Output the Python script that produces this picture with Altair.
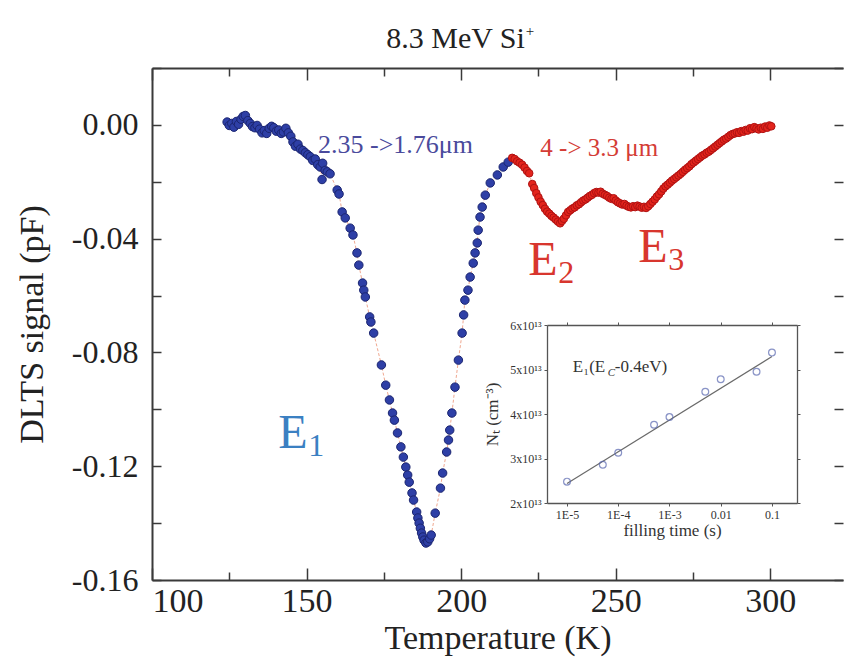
import altair as alt
import pandas as pd

SERIF = "Liberation Serif"

# ---------------- data ----------------
blue_T = [124.3, 125.0, 125.8, 126.5, 127.3, 128.0, 128.8, 129.5, 130.2, 131.0,
          131.8, 132.5, 133.3, 134.0, 134.8, 135.6, 136.3, 137.1, 137.9, 138.7,
          139.4, 140.2, 141.0, 141.8, 142.5, 143.3, 144.1, 144.9, 145.6, 146.4,
          147.2, 148.0, 148.8, 149.6, 150.4, 151.2, 152.0, 152.8, 153.6, 154.4,
          155.0, 155.2, 156.0, 156.7, 157.6, 159.9, 160.5, 161.5, 162.5, 164.1,
          165.0, 166.3, 166.9, 168.1, 168.5, 169.0, 170.4, 170.8, 171.7, 174.2,
          175.6, 176.8, 177.8, 178.4, 179.4, 180.5, 181.3, 182.1, 182.7, 183.2,
          184.1, 184.6, 185.6, 186.0, 186.4, 186.8, 187.2, 187.6, 188.0, 188.6,
          189.2, 189.8, 190.3, 191.6, 193.3, 194.0, 195.3, 195.9, 196.3, 197.0,
          198.0, 199.1, 200.3, 200.8, 201.2, 202.2, 202.9, 203.9, 204.5, 205.2,
          205.5, 206.1, 206.8, 207.8, 209.4, 211.7, 213.6, 215.2]
blue_V = [0.0010, -0.0002, 0.0005, -0.0008, 0.0012, 0.0002, 0.0020, 0.0030, 0.0033, 0.0015,
          0.0005, -0.0006, -0.0010, -0.0002, -0.0015, -0.0028, -0.0020, -0.0030, -0.0012, -0.0005,
          -0.0010, -0.0022, -0.0018, -0.0030, -0.0025, -0.0012, -0.0028, -0.0040, -0.0060, -0.0075,
          -0.0068, -0.0085, -0.0090, -0.0098, -0.0105, -0.0112, -0.0125, -0.0120, -0.0140, -0.0148,
          -0.0192, -0.0135, -0.0160, -0.0165, -0.0172, -0.0229, -0.0243, -0.0306, -0.0327, -0.0363,
          -0.0387, -0.0450, -0.0493, -0.0556, -0.0581, -0.0605, -0.0675, -0.0693, -0.0732, -0.0844,
          -0.0915, -0.0967, -0.1013, -0.1038, -0.1083, -0.1132, -0.1168, -0.1203, -0.1231, -0.1256,
          -0.1294, -0.1319, -0.1361, -0.1382, -0.1400, -0.1418, -0.1435, -0.1449, -0.1460, -0.1470,
          -0.1466, -0.1455, -0.1442, -0.1365, -0.1277, -0.1224, -0.1150, -0.1108, -0.1073, -0.1013,
          -0.0922, -0.0827, -0.0732, -0.0668, -0.0616, -0.0581, -0.0535, -0.0486, -0.0450, -0.0415,
          -0.0370, -0.0324, -0.0289, -0.0247, -0.0204, -0.0176, -0.0148, -0.0131]

red_T = [216.5, 217.3, 218.1, 218.9, 219.7, 220.5, 221.3, 222.0, 223.0, 223.6,
         224.3, 225.0, 225.7, 226.4, 227.1, 227.8, 228.5, 229.2, 229.9, 230.6,
         231.3, 232.0, 232.6, 233.2, 233.9, 234.6, 235.3, 236.0, 236.7, 237.4,
         238.1, 238.8, 239.5, 240.2, 240.9, 241.6, 242.3, 243.0, 243.7, 244.4,
         245.1, 245.8, 246.5, 247.2, 247.9, 248.6, 249.3, 250.0, 250.7, 251.4,
         252.1, 252.8, 253.5, 254.2, 254.9, 255.6, 256.3, 257.0, 257.7, 258.4,
         259.1, 259.8, 260.5, 261.2, 261.9, 262.6, 263.3, 264.0, 264.7, 265.4,
         266.1, 266.8, 267.5, 268.2, 268.9, 269.6, 270.3, 271.0, 271.7, 272.4,
         273.1, 273.8, 274.5, 275.2, 275.9, 276.6, 277.3, 278.0, 278.7, 279.4,
         280.1, 280.8, 281.5, 282.2, 282.9, 283.6, 284.3, 285.0, 285.7, 286.4,
         287.1, 287.8, 288.5, 289.2, 289.9, 290.6, 291.3, 292.0, 292.7, 293.4,
         294.1, 294.8, 295.5, 296.2, 296.9, 297.6, 298.3, 299.0, 299.7, 300.3]
red_V = [-0.0116, -0.0120, -0.0128, -0.0133, -0.0140, -0.0150, -0.0162, -0.0170, -0.0208, -0.0222,
         -0.0240, -0.0255, -0.0270, -0.0282, -0.0295, -0.0305, -0.0312, -0.0320, -0.0326, -0.0333,
         -0.0340, -0.0346, -0.0338, -0.0330, -0.0318, -0.0306, -0.0300, -0.0294, -0.0290, -0.0283,
         -0.0279, -0.0272, -0.0266, -0.0262, -0.0256, -0.0250, -0.0246, -0.0240, -0.0236, -0.0238,
         -0.0235, -0.0242, -0.0246, -0.0250, -0.0256, -0.0260, -0.0258, -0.0266, -0.0272, -0.0276,
         -0.0280, -0.0278, -0.0284, -0.0288, -0.0290, -0.0286, -0.0289, -0.0284, -0.0287, -0.0291,
         -0.0288, -0.0292, -0.0286, -0.0278, -0.0270, -0.0262, -0.0252, -0.0244, -0.0234, -0.0224,
         -0.0216, -0.0210, -0.0203, -0.0196, -0.0190, -0.0184, -0.0178, -0.0172, -0.0165, -0.0158,
         -0.0152, -0.0146, -0.0138, -0.0132, -0.0126, -0.0120, -0.0114, -0.0108, -0.0104, -0.0098,
         -0.0094, -0.0088, -0.0082, -0.0076, -0.0070, -0.0064, -0.0058, -0.0052, -0.0048, -0.0042,
         -0.0036, -0.0032, -0.0030, -0.0026, -0.0028, -0.0022, -0.0024, -0.0018, -0.0020, -0.0012,
         -0.0015, -0.0008, -0.0012, -0.0016, -0.0010, -0.0014, -0.0006, -0.0010, -0.0002, -0.0005]

x_major = [100, 150, 200, 250, 300]
x_minor = [125, 175, 225, 275]
y_major = [-0.16, -0.12, -0.08, -0.04, 0.0]
y_all = [-0.16, -0.14, -0.12, -0.10, -0.08, -0.06, -0.04, -0.02, 0.0, 0.02]

# inset: trap concentration vs filling time
fill_time = [1e-5, 5e-5, 1e-4, 5e-4, 1e-3, 5e-3, 1e-2, 5e-2, 1e-1]
trap_N = [2.48e13, 2.86e13, 3.13e13, 3.76e13, 3.93e13, 4.50e13, 4.78e13, 4.95e13, 5.38e13]
fit_time = [1e-5, 1e-1]
fit_N = [2.44e13, 5.29e13]
inset_x_ticks = [1e-5, 1e-4, 1e-3, 1e-2, 1e-1]
inset_y_ticks = [2e13, 3e13, 4e13, 5e13, 6e13]

# ---------------- tables ----------------
blue_df = pd.DataFrame({"T": blue_T, "V": blue_V})
red_df = pd.DataFrame({"T": red_T, "V": red_V})
all_df = pd.concat([blue_df, red_df], ignore_index=True)
all_df["i"] = range(len(all_df))

X_DOM = [100, 323.5]
Y_DOM = [-0.16, 0.02]
W, H = 691, 512
xs = alt.Scale(domain=X_DOM, nice=False, zero=False)
ys = alt.Scale(domain=Y_DOM, nice=False, zero=False)
FRAME = "#3a3a3a"


def ax(**kw):
    base = dict(grid=False, labels=False, domain=False, tickColor=FRAME,
                tickWidth=1.5, title=None)
    base.update(kw)
    return alt.Axis(**base)


ax_x_labels = alt.Axis(orient="bottom", values=x_major, format="d", grid=False,
                       labelFont=SERIF, labelFontSize=34, labelColor="#222",
                       labelPadding=4, tickSize=0, domain=True, domainColor=FRAME,
                       domainWidth=2, title="Temperature (K)", titleFont=SERIF,
                       titleFontSize=34, titleFontWeight="normal", titleColor="#222",
                       titlePadding=3)
ax_y_labels = alt.Axis(orient="left", values=y_major, grid=False,
                       labelExpr="replace(format(datum.value, '.2f'), '\u2212', '-')",
                       labelFont=SERIF, labelFontSize=32, labelColor="#222",
                       labelPadding=14, tickSize=0, domain=True, domainColor=FRAME,
                       domainWidth=2, title="DLTS signal (pF)", titleFont=SERIF,
                       titleFontSize=34, titleFontWeight="normal", titleColor="#222",
                       titlePadding=22)

ax_x_in_major = ax(orient="top", offset=-H, values=x_major, tickSize=12)
ax_x_in_minor = ax(orient="top", offset=-H, values=x_minor, tickSize=8)
ax_x_top_major = ax(orient="bottom", offset=-H, values=x_major, tickSize=12,
                    domain=True, domainColor=FRAME, domainWidth=2)
ax_x_top_minor = ax(orient="bottom", offset=-H, values=x_minor, tickSize=8)
ax_y_in = ax(orient="right", offset=-W, values=y_all, tickSize=9)
ax_y_right = ax(orient="left", offset=-W, values=y_all, tickSize=9)


def enc(chart, xaxis=None, yaxis=None, **kw):
    return chart.encode(
        x=alt.X("T:Q", scale=xs, axis=xaxis),
        y=alt.Y("V:Q", scale=ys, axis=yaxis),
        **kw,
    )


connector = enc(alt.Chart(all_df).mark_line(
    color="#f0a890", strokeWidth=1, strokeDash=[3, 2]
), ax_x_in_minor, ax_y_in, order="i:Q")

blue = enc(alt.Chart(blue_df).mark_point(
    shape="circle", filled=True, fill="#2e3fa6", stroke="#1b2570",
    strokeWidth=1, size=72, opacity=1
), ax_x_labels, ax_y_labels)

red = enc(alt.Chart(red_df).mark_point(
    shape="circle", filled=True, fill="#e3241c", stroke="#b01212",
    strokeWidth=1, size=58, opacity=1
), ax_x_in_major, ax_y_right)

# title text
title_df = pd.DataFrame({"T": [220.6], "V": [0.0272], "txt": ["8.3 MeV Si"], "sup": ["+"]})
title = enc(alt.Chart(title_df).mark_text(
    font=SERIF, fontSize=30, color="#222", align="right", baseline="alphabetic"
), ax_x_top_major, None, text="txt:N")
title_sup = enc(alt.Chart(title_df).mark_text(
    font=SERIF, fontSize=15, color="#222", align="left", baseline="alphabetic",
    dx=1, dy=-12
), None, None, text="sup:N")

# range annotations
ann_blue_df = pd.DataFrame({"T": [153.7], "V": [-0.0071], "txt": ["2.35 ->1.76\u03bcm"]})
ann_red_df = pd.DataFrame({"T": [225.6], "V": [-0.0081], "txt": ["4 -> 3.3 \u03bcm"]})
ann_blue = enc(alt.Chart(ann_blue_df).mark_text(
    font=SERIF, fontSize=26, align="left", baseline="middle", color="#4a4a9c"
), ax_x_top_minor, None, text="txt:N")
ann_red = enc(alt.Chart(ann_red_df).mark_text(
    font=SERIF, fontSize=25, align="left", baseline="middle", color="#d43c36"
), None, None, text="txt:N")

# level labels E1, E2, E3
lvl_blue_df = pd.DataFrame({"T": [140.8], "V": [-0.1136], "sub": ["1"]})
lvl_red_df = pd.DataFrame({"T": [221.7, 257.3], "V": [-0.0528, -0.0482], "sub": ["2", "3"]})
E1_COL = "#3b80c2"
E23_COL = "#d8362e"
lvl_layers = []
for df_, col in ((lvl_blue_df, E1_COL), (lvl_red_df, E23_COL)):
    lvl_layers.append(enc(alt.Chart(df_).mark_text(
        font=SERIF, fontSize=48, align="left", baseline="alphabetic", text="E", color=col
    )))
    lvl_layers.append(enc(alt.Chart(df_).mark_text(
        font=SERIF, fontSize=32, align="left", baseline="alphabetic", dx=30, dy=8, color=col
    ), text="sub:N"))

main = alt.layer(connector, blue, red, title, title_sup, ann_blue, ann_red,
                 *lvl_layers).resolve_axis(x="independent", y="independent")

# ---------------- inset ----------------
ins_df = pd.DataFrame({"t": fill_time, "N": trap_N})
fit_df = pd.DataFrame({"t": fit_time, "N": fit_N})
ixs = alt.Scale(type="log", domain=[4.07e-6, 0.308], range=[395, 645], nice=False)
iys = alt.Scale(domain=[2e13, 6e13], range=[435, 257], nice=False, zero=False)
IN_C = "#555555"

ins_bottom = alt.Axis(orient="bottom", offset=-77, values=inset_x_ticks, grid=False,
                      labelExpr="datum.value < 0.005 ? '1E-' + round(-log(datum.value)/LN10) : (datum.value < 0.05 ? '0.01' : '0.1')",
                      labelFont=SERIF, labelFontSize=12, labelColor="#333", labelPadding=3,
                      tickSize=3, tickColor=IN_C, domain=True, domainColor=IN_C,
                      domainWidth=1.3, title="filling time (s)", titleFont=SERIF,
                      titleFontSize=17, titleFontWeight="normal", titleColor="#333",
                      titlePadding=2)
ins_left = alt.Axis(orient="left", offset=-395, values=inset_y_ticks, grid=False,
                    labelExpr="round(datum.value/1e13) + 'x10\u00b9\u00b3'",
                    labelFont=SERIF, labelFontSize=12, labelColor="#333", labelPadding=3,
                    tickSize=3, tickColor=IN_C, domain=True, domainColor=IN_C,
                    domainWidth=1.3, title="N\u209c (cm\u207b\u00b3)", titleFont=SERIF,
                    titleFontSize=17, titleFontWeight="normal", titleColor="#333",
                    titlePadding=8)
ins_top = alt.Axis(orient="top", offset=-257, values=inset_x_ticks, grid=False,
                   labels=False, tickSize=3, tickColor=IN_C, domain=True,
                   domainColor=IN_C, domainWidth=1.3, title=None)
ins_right = alt.Axis(orient="right", offset=-46, values=inset_y_ticks, grid=False,
                     labels=False, tickSize=3, tickColor=IN_C, domain=True,
                     domainColor=IN_C, domainWidth=1.3, title=None)

ins_pts = alt.Chart(ins_df).mark_point(
    shape="circle", filled=False, stroke="#5a68b0", strokeWidth=1.2, size=46
).encode(
    x=alt.X("t:Q", scale=ixs, axis=ins_bottom),
    y=alt.Y("N:Q", scale=iys, axis=ins_left),
)
ins_fit = alt.Chart(fit_df).mark_line(color="#6a6a6a", strokeWidth=1.2).encode(
    x=alt.X("t:Q", scale=ixs, axis=ins_top),
    y=alt.Y("N:Q", scale=iys, axis=ins_right),
)
ins_lbl_df = pd.DataFrame({"t": [1.3e-5], "N": [4.95e13],
                           "a": ["E\u2081(E"], "b": ["C"], "c": ["-0.4eV)"]})


def ienc(chart, field):
    return chart.encode(x=alt.X("t:Q", scale=ixs, axis=None),
                        y=alt.Y("N:Q", scale=iys, axis=None), text=field)


ins_a = ienc(alt.Chart(ins_lbl_df).mark_text(
    font=SERIF, fontSize=17, color="#333", align="left", baseline="alphabetic"), "a:N")
ins_b = ienc(alt.Chart(ins_lbl_df).mark_text(
    font=SERIF, fontSize=11, color="#333", align="left", baseline="alphabetic",
    dx=35, dy=4, fontStyle="italic"), "b:N")
ins_c = ienc(alt.Chart(ins_lbl_df).mark_text(
    font=SERIF, fontSize=17, color="#333", align="left", baseline="alphabetic", dx=42), "c:N")

inset = alt.layer(ins_fit, ins_pts, ins_a, ins_b, ins_c).resolve_axis(
    x="independent", y="independent"
)

chart = alt.layer(main, inset).resolve_scale(
    x="independent", y="independent"
).properties(
    width=W, height=H,
    autosize=alt.AutoSizeParams(type="none"),
    padding={"left": 152, "top": 68, "right": 1, "bottom": 84},
    background="white",
).configure_view(stroke=None)

chart.save("out.html", embed_options={"renderer": "svg", "actions": False})
